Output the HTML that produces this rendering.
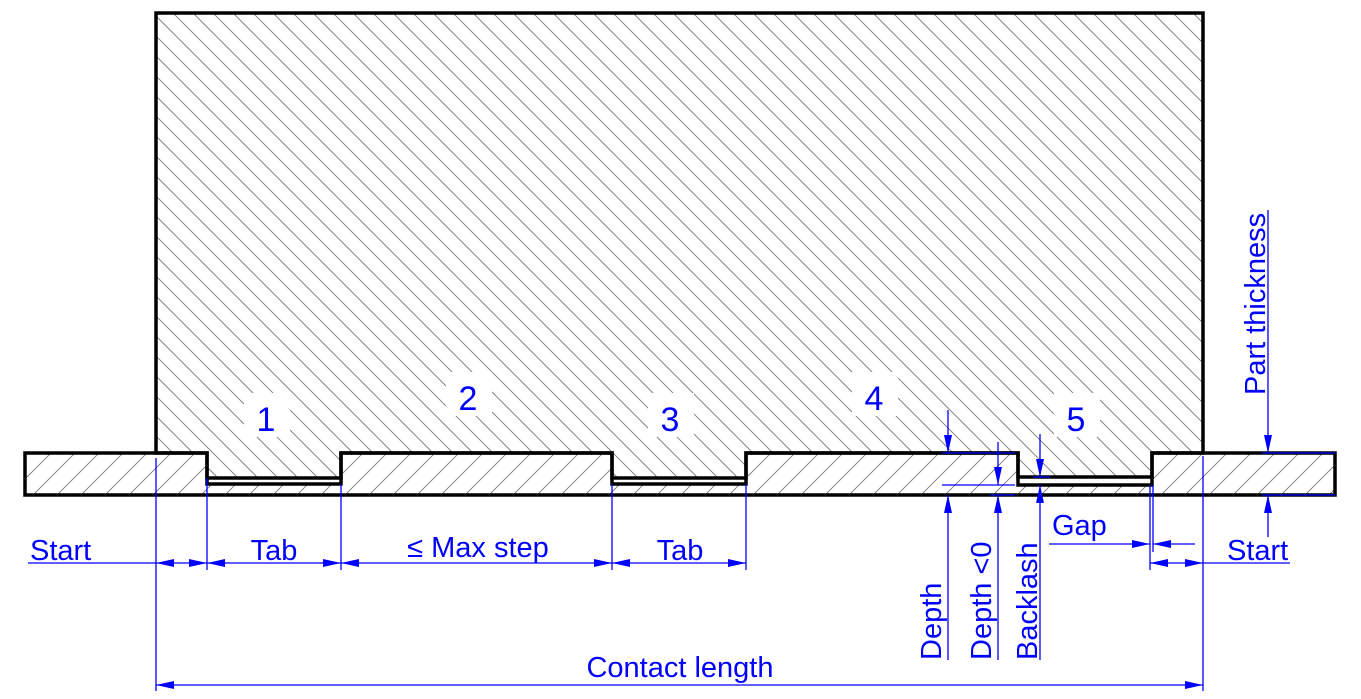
<!DOCTYPE html>
<html><head><meta charset="utf-8"><style>
html,body{margin:0;padding:0;background:#fff;}
svg{display:block;}
text{font-family:"Liberation Sans",Arial,sans-serif;fill:#0000ff;}
</style></head><body>
<svg width="1361" height="699" viewBox="0 0 1361 699" xmlns="http://www.w3.org/2000/svg">
<defs>
<pattern id="hb" patternUnits="userSpaceOnUse" width="20" height="20">
<path d="M-10,-10 L30,30 M-10,10 L10,30 M10,-10 L30,10" stroke="#777" stroke-width="0.9"/>
</pattern>
<pattern id="hs" patternUnits="userSpaceOnUse" width="24" height="24">
<path d="M-12,12 L12,-12 M0,24 L24,0 M12,36 L36,12" stroke="#777" stroke-width="0.9"/>
</pattern>
<marker id="a" viewBox="0 0 18 8" refX="18" refY="4" markerWidth="18" markerHeight="8" markerUnits="userSpaceOnUse" orient="auto-start-reverse">
<path d="M0,0 L18,4 L0,8 Z" fill="#0000ff"/>
</marker>
</defs>
<path d="M156,13 H1203 V453 H1152 V477 H1018 V453 H746 V478 H612 V453 H341 V478 H207 V453 H156 Z" fill="url(#hb)" stroke="#000" stroke-width="3.5"/>
<path d="M25,453 H207 V484 H341 V453 H612 V484 H746 V453 H1018 V485 H1152 V453 H1335 V495 H25 Z" fill="url(#hs)" stroke="#000" stroke-width="3.5"/>
<g fill="#fff">
<rect x="244" y="393" width="46" height="44"/><rect x="446" y="372" width="46" height="44"/>
<rect x="648" y="393" width="46" height="44"/><rect x="852" y="372" width="46" height="44"/>
<rect x="1054" y="393" width="46" height="44"/>
</g>
<g font-size="34" text-anchor="middle">
<text x="266" y="431">1</text><text x="468" y="410">2</text><text x="670" y="431">3</text>
<text x="874" y="410">4</text><text x="1076" y="431">5</text>
</g>
<g stroke="#0000ff" stroke-width="1.3" fill="none">
<line x1="156" y1="458" x2="156" y2="691"/>
<line x1="207" y1="478" x2="207" y2="570"/>
<line x1="341" y1="484" x2="341" y2="570"/>
<line x1="612" y1="484" x2="612" y2="570"/>
<line x1="746" y1="484" x2="746" y2="570"/>
<line x1="1203" y1="456" x2="1203" y2="691"/>
<line x1="1150" y1="485" x2="1150" y2="570"/>
<line x1="1153" y1="485" x2="1153" y2="552"/>
<line x1="28" y1="563" x2="156" y2="563"/>
<line x1="156" y1="563" x2="207" y2="563" marker-start="url(#a)" marker-end="url(#a)"/>
<line x1="207" y1="563" x2="341" y2="563" marker-start="url(#a)" marker-end="url(#a)"/>
<line x1="341" y1="563" x2="612" y2="563" marker-start="url(#a)" marker-end="url(#a)"/>
<line x1="612" y1="563" x2="746" y2="563" marker-start="url(#a)" marker-end="url(#a)"/>
<line x1="156" y1="685" x2="1203" y2="685" marker-start="url(#a)" marker-end="url(#a)"/>
<line x1="1049" y1="544" x2="1150" y2="544" marker-end="url(#a)"/>
<line x1="1195" y1="544" x2="1153" y2="544" marker-end="url(#a)"/>
<line x1="1150" y1="563" x2="1203" y2="563" marker-start="url(#a)" marker-end="url(#a)"/>
<line x1="1203" y1="563" x2="1290" y2="563"/>
<line x1="948" y1="410" x2="948" y2="453" marker-end="url(#a)"/>
<line x1="948" y1="660" x2="948" y2="495" marker-end="url(#a)"/>
<line x1="942" y1="453" x2="1015" y2="453"/>
<line x1="942" y1="485" x2="1015" y2="485"/>
<line x1="990" y1="495" x2="1015" y2="495"/>
<line x1="998" y1="442" x2="998" y2="485" marker-end="url(#a)"/>
<line x1="998" y1="660" x2="998" y2="495" marker-end="url(#a)"/>
<line x1="1040" y1="434" x2="1040" y2="477" marker-end="url(#a)"/>
<line x1="1040" y1="660" x2="1040" y2="485" marker-end="url(#a)"/>
<line x1="1033" y1="477" x2="1050" y2="477"/>
<line x1="1268" y1="210" x2="1268" y2="453" marker-end="url(#a)"/>
<line x1="1268" y1="537" x2="1268" y2="495" marker-end="url(#a)"/>
<line x1="1262" y1="453" x2="1335" y2="453"/>
<line x1="1262" y1="495" x2="1335" y2="495"/>
</g>
<g font-size="29">
<text x="30" y="560">Start</text>
<text x="274" y="560" text-anchor="middle">Tab</text>
<text x="478" y="557" text-anchor="middle">≤ Max step</text>
<text x="680" y="560" text-anchor="middle">Tab</text>
<text x="1052" y="535">Gap</text>
<text x="1227" y="560">Start</text>
<text x="680" y="677" text-anchor="middle">Contact length</text>
<text transform="translate(941,660) rotate(-90)">Depth</text>
<text transform="translate(991,660) rotate(-90)">Depth &lt;0</text>
<text transform="translate(1037,660) rotate(-90)">Backlash</text>
<text transform="translate(1265,395) rotate(-90)">Part thickness</text>
</g>
</svg>
</body></html>
